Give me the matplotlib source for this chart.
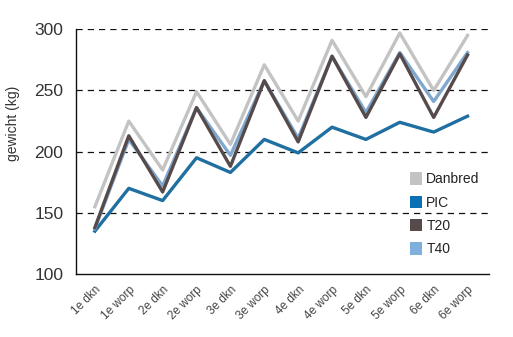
import matplotlib
matplotlib.use("Agg")
import matplotlib.pyplot as plt
from matplotlib.patches import Patch

categories = ["1e dkn", "1e worp", "2e dkn", "2e worp", "3e dkn", "3e worp",
              "4e dkn", "4e worp", "5e dkn", "5e worp", "6e dkn", "6e worp"]
danbred = [155, 225, 185, 249, 206, 271, 225, 291, 245, 297, 250, 295]
pic     = [135, 170, 160, 195, 183, 210, 199, 220, 210, 224, 216, 229]
t20     = [138, 213, 167, 236, 188, 258, 208, 278, 228, 280, 228, 279]
t40     = [137, 210, 172, 236, 197, 258, 211, 278, 232, 281, 241, 281]
yticks = [100, 150, 200, 250, 300]

colors = {"Danbred": "#c3c3c3", "PIC": "#1f6fa0", "T20": "#564a4b", "T40": "#80a8cf"}
legend_colors = {"Danbred": "#c3c3c3", "PIC": "#0a6fb3", "T20": "#564a4b", "T40": "#7fb0dc"}

plt.rcParams['font.family'] = ['Liberation Sans', 'DejaVu Sans']

fig = plt.figure(figsize=(5.13, 3.37), dpi=100)
ax = fig.add_axes([0.148, 0.187, 0.805, 0.726])

x = list(range(len(categories)))
lw = 2.4
ax.plot(x, danbred, color=colors["Danbred"], lw=lw, zorder=3)
ax.plot(x, pic, color=colors["PIC"], lw=lw, zorder=4)
ax.plot(x, t40, color=colors["T40"], lw=lw, zorder=4)
ax.plot(x, t20, color=colors["T20"], lw=lw, zorder=5)

ax.set_xlim(-0.56, 11.63)
ax.set_ylim(100, 300)
ax.set_yticks(yticks)
ax.set_yticklabels([str(v) for v in yticks], fontsize=12.5, color="#333333")
ax.set_xticks(x)
ax.set_xticklabels(categories, rotation=45, ha="right", rotation_mode="anchor",
                   fontsize=8.5, color="#444444")
ax.tick_params(axis="y", length=0, pad=9)
ax.tick_params(axis="x", length=0, pad=7)
for yv in yticks[1:]:
    ax.axhline(yv, color="#111111", lw=0.9, ls=(0, (5, 4)), zorder=1)
ax.spines["top"].set_visible(False)
ax.spines["right"].set_visible(False)
ax.spines["left"].set_color("#111111")
ax.spines["bottom"].set_color("#111111")
ax.spines["left"].set_linewidth(1.0)
ax.spines["bottom"].set_linewidth(1.0)
ax.set_ylabel("gewicht (kg)", fontsize=10, color="#333333")
ax.yaxis.set_label_coords(-0.135, 0.615)

handles = [Patch(facecolor=legend_colors[k], edgecolor="none", label=k)
           for k in ["Danbred", "PIC", "T20", "T40"]]
leg = fig.legend(handles=handles, loc="upper left", bbox_to_anchor=(0.785, 0.51),
                 frameon=False, fontsize=10, handlelength=0.9, handleheight=1.0,
                 handletextpad=0.3, labelspacing=0.68, borderpad=0)
for t in leg.get_texts():
    t.set_color("#222222")

fig.savefig("out.png", dpi=100)
